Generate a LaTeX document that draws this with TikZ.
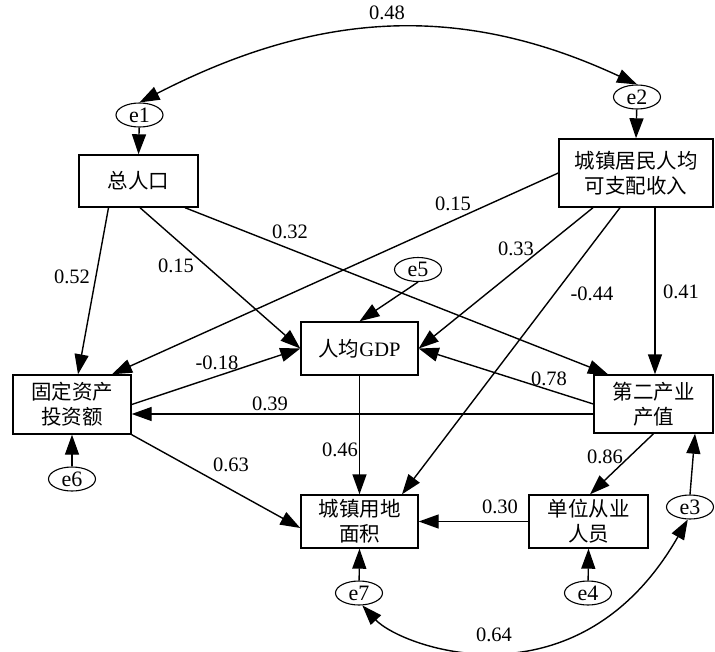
\documentclass[tikz,border=0pt]{standalone}
\usepackage{fontspec}
\setmainfont{Liberation Serif}
\newfontfamily\cjk{Noto Sans CJK SC}
\usetikzlibrary{arrows.meta,shapes.geometric}
\begin{document}
\begin{tikzpicture}[x=1pt,y=-1pt,
  box/.style={draw, line width=1.4pt, inner sep=0pt, align=center,
    font=\cjk\fontsize{20.5}{25}\selectfont},
  err/.style={draw, ellipse, line width=1.1pt, minimum width=47pt, minimum height=24pt,
    inner sep=0pt, font=\fontsize{22}{22}\selectfont},
  arr/.style={-{Triangle[length=20pt,width=14pt]}, line width=1.4pt},
  darr/.style={{Triangle[length=20pt,width=14pt]}-{Triangle[length=20pt,width=14pt]}, line width=1.4pt},
  lab/.style={inner sep=0pt, font=\fontsize{20.5}{21}\selectfont}]
\useasboundingbox (0,0) rectangle (715,651);
% boxes
\node[box, minimum width=119pt, minimum height=52pt] (pop) at (138.5,181) {总人口};
\node[box, minimum width=154pt, minimum height=68pt] (inc) at (636,173) {城镇居民人均\\可支配收入};
\node[box, minimum width=117pt, minimum height=53pt] (gdp) at (359.5,348.5) {人均\rmfamily GDP};
\node[box, minimum width=118pt, minimum height=59pt] (fix) at (72,404.5) {固定资产\\投资额};
\node[box, minimum width=119pt, minimum height=58pt] (sec) at (653.5,404) {第二产业\\产值};
\node[box, minimum width=117pt, minimum height=53pt] (land) at (359.5,521.5) {城镇用地\\面积};
\node[box, minimum width=119pt, minimum height=53pt] (emp) at (588.5,521.5) {单位从业\\人员};
% error terms
\node[err] (e1) at (139.5,115) {e1};
\node[err] (e2) at (637,97) {e2};
\node[err] (e3) at (690,507) {e3};
\node[err] (e4) at (588,593) {e4};
\node[err] (e5) at (418,269.5) {e5};
\node[err] (e6) at (72,479) {e6};
\node[err] (e7) at (359,593) {e7};
% error arrows
\draw[arr] (e1) -- (pop.north);
\draw[arr] (e2) -- (inc.north);
\draw[arr] (e5.south) -- (gdp.north);
\draw[arr] (e6) -- (fix.south);
\draw[arr] (e7) -- (land.south);
\draw[arr] (e4) -- (emp.south);
\draw[arr] (e3.north) -- ([xshift=41.5pt]sec.south);
% covariances
\draw[darr] (e1.north) .. controls +(181,-93) and +(-174,-81) .. (e2.north);
\draw[darr] (e7.-75) .. controls +(39,42) and +(-110,192) .. (e3.-100);
% paths
\draw[arr] ([xshift=-30pt]pop.south) -- ([xshift=6pt]fix.north);
\draw[arr] ([xshift=1.5pt]pop.south) -- (gdp.west);
\draw[arr] ([xshift=46.5pt]pop.south) -- ([xshift=-45.5pt]sec.north);
\draw[arr] (inc.west) -- ([xshift=40pt]fix.north);
\draw[arr] ([xshift=-43pt]inc.south) -- (gdp.east);
\draw[arr] ([xshift=-16pt]inc.south) -- ([xshift=42.5pt]land.north);
\draw[arr] ([xshift=19pt]inc.south) -- ([xshift=1.5pt]sec.north);
\draw[arr] (fix.east) -- (gdp.west);
\draw[arr] ([yshift=-10pt]sec.west) -- ([yshift=-10pt]sec.west -| fix.east);
\draw[arr] (sec.west) -- (gdp.east);
\draw[arr] (gdp.south) -- (land.north);
\draw[arr] (fix.south east) -- ([yshift=-6.5pt]land.west);
\draw[arr] (sec.south) -- ([xshift=1.5pt]emp.north);
\draw[arr] (emp.west) -- (emp.west -| land.east);
% labels
\node[lab] (l1) at (387,13) {0.48};
\node[lab] (l2) at (453,204) {0.15};
\node[lab] (l3) at (290,232) {0.32};
\node[lab] (l4) at (72,277) {0.52};
\node[lab] (l5) at (176,266) {0.15};
\node[lab] (l6) at (217,363) {-0.18};
\node[lab] (l7) at (270,404) {0.39};
\node[lab] (l8) at (516,249) {0.33};
\node[lab] (l9) at (592,294) {-0.44};
\node[lab] (l10) at (681,292) {0.41};
\node[lab] (l11) at (549,379) {0.78};
\node[lab] (l12) at (340,450) {0.46};
\node[lab] (l13) at (231,465) {0.63};
\node[lab] (l14) at (605,457) {0.86};
\node[lab] (l15) at (500,507) {0.30};
\node[lab] (l16) at (494,635) {0.64};
\end{tikzpicture}
\end{document}
